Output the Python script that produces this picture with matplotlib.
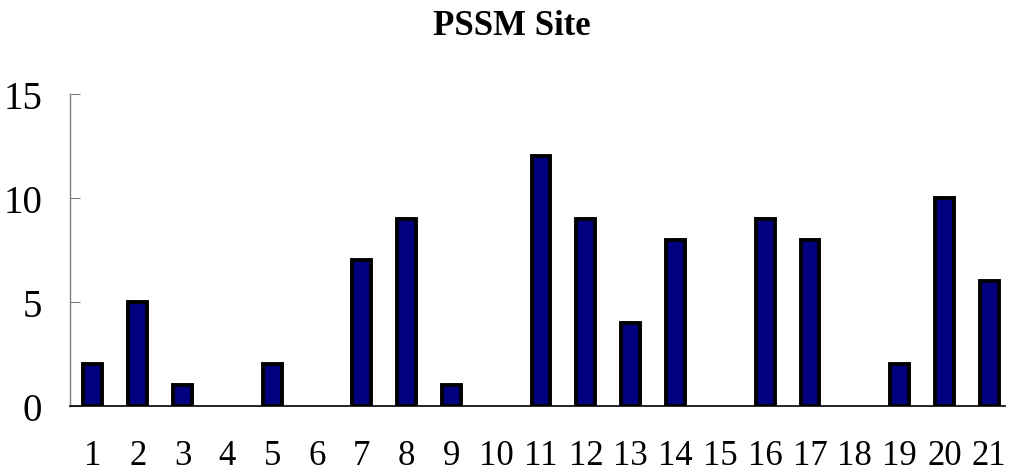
import matplotlib
matplotlib.use("Agg")
import matplotlib.pyplot as plt
import numpy as np

# site numbers and counts
sites = list(range(1, 22))
counts = [2, 5, 1, 0, 2, 0, 7, 9, 1, 0, 12, 9, 4, 8, 0, 9, 8, 0, 2, 10, 6]
yticks = [0, 5, 10, 15]

plt.rcParams['font.family'] = ['Liberation Serif', 'DejaVu Serif']

fig = plt.figure(figsize=(10.24, 4.77), dpi=100)
ax = fig.add_axes([0.0684, 0.1468, 0.913, 0.654])

# no outline on empty sites, so nothing sits on the base line
edge_w = [2.8 if c > 0 else 0 for c in counts]
ax.bar(sites, counts, width=0.42, color='#000080', edgecolor='black', linewidth=edge_w)

ax.set_xlim(0.49, 21.35)
ax.set_ylim(0, 15)
ax.set_xticks(sites)
ax.set_xticklabels([str(s) for s in sites], fontsize=25)
ax.set_yticks(yticks)
ax.set_yticklabels([str(t) for t in yticks], fontsize=28)

ax.spines['top'].set_visible(False)
ax.spines['right'].set_visible(False)
ax.spines['left'].set_color('#808080')
ax.spines['left'].set_linewidth(1.0)
ax.spines['bottom'].set_color('black')
ax.spines['bottom'].set_linewidth(1.2)

ax.tick_params(axis='y', direction='in', length=7, width=0.8, color='#808080', pad=20)
ax.tick_params(axis='x', length=0, pad=24)

fig.text(0.5, 0.945, 'PSSM Site', ha='center', va='center', fontsize=25, fontweight='bold')

fig.savefig('out.png', dpi=100)
